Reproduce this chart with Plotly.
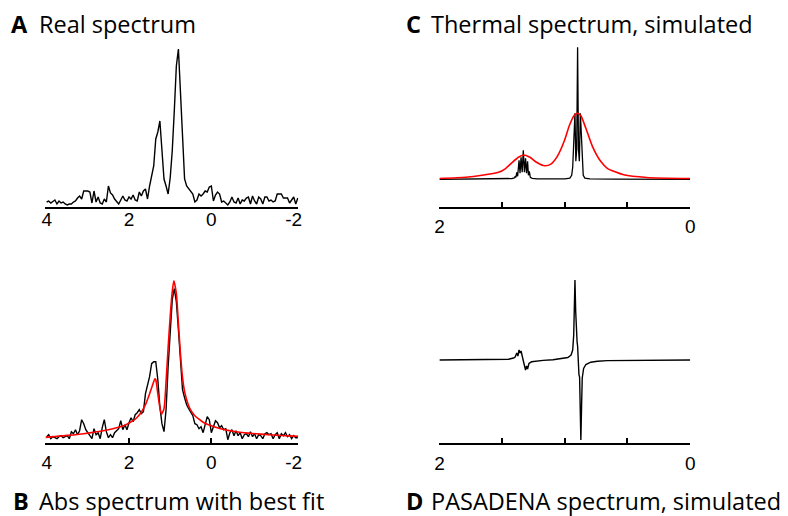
import plotly.graph_objects as go

W, H = 788, 516

# ---------------- data ----------------
# Panels A and B share a uniform chemical-shift grid: 4.00 ppm down to -2.10 ppm
grid_start, grid_step = 4.00, -0.05

# A: real part of the measured spectrum (arbitrary units)
a_intensity = [
    4, 5, 3, 5, 6, 2, 5, 3, 4, 2,
    1, 2, 2, 4, 5, 8, 10, 7, 15, 15,
    15, 14, 3, 15, 4, 9, 3, 2, 7, 4,
    20, 13, 11, 7, 4, 2, 6, 10, 6, 5,
    9, 7, 11, 6, 5, 14, 10, 15, 17, 7,
    20, 30, 40, 67, 74, 85, 50, 27, 20, 12,
    28, 55, 95, 140, 157, 114, 60, 27, 20, 17,
    15, 12, 4, 6, 12, 10, 12, 15, 14, 19,
    20, 5, 11, 14, 12, 4, 5, 3, 1, 4,
    9, 4, 3, 8, 2, 6, 5, 8, 9, 2,
    10, 5, 2, 9, 7, 2, 9, 9, 5, 6,
    4, 5, 12, 12, 12, 8, 8, 8, 3, 6,
    9, 2, 8,
]

# B: absolute-value spectrum (arbitrary units)
b_intensity = [
    5, 7, 3, 5, 4, 3, 5, 6, 4, 5,
    6, 3, 10, 8, 12, 7, 11, 22, 18, 12,
    9, 5, 3, 13, 7, 9, 3, 14, 22, 10,
    4, 7, 4, 9, 11, 13, 21, 12, 17, 12,
    19, 24, 20, 27, 29, 32, 28, 30, 48, 57,
    65, 78, 80, 80, 62, 35, 18, 10, 32, 75,
    110, 142, 153, 140, 112, 85, 52, 44, 37, 33,
    30, 26, 18, 17, 13, 15, 9, 18, 25, 22,
    9, 15, 21, 19, 14, 16, 12, 13, 2, 9,
    12, 6, 11, 6, 9, 3, 7, 8, 5, 10,
    5, 8, 3, 7, 6, 3, 8, 9, 7, 8,
    3, 7, 9, 3, 8, 6, 9, 5, 7, 3,
    6, 4, 4,
]
grid_ppm = [round(grid_start + i * grid_step, 2) for i in range(len(a_intensity))]

# B: best-fit curve
b_fit_ppm = [4.03, 3.9, 3.7, 3.5, 3.3, 3.1, 2.9, 2.7, 2.5, 2.3, 2.1, 1.9, 1.8, 1.7,
             1.6, 1.5, 1.45, 1.4, 1.37, 1.35, 1.3, 1.25, 1.21, 1.15, 1.1, 1.05, 1.0,
             0.95, 0.91, 0.85, 0.8, 0.75, 0.7, 0.65, 0.6, 0.55, 0.5, 0.45, 0.4, 0.3,
             0.2, 0.1, 0.0, -0.2, -0.4, -0.6, -0.8, -1.0, -1.2, -1.4, -1.6, -1.8,
             -2.0, -2.11]
b_fit = [4.3, 4.8, 5.6, 6.3, 7.0, 8.0, 9.2, 10.4, 12.0, 14.0, 16.5, 21.0, 24.5, 29.5,
         37, 48, 54, 60, 63, 62, 48, 34, 27.5, 33, 60, 94, 125,
         150, 161, 148, 118, 88, 64, 50, 42, 36, 31.5, 28.5, 26, 22.5,
         19.5, 17.5, 16, 13.3, 11.3, 10.0, 9.0, 8.2, 7.6, 7.0, 6.4, 6.0,
         5.6, 5.4]

# C: simulated thermal spectrum (multiplets) and its broadened version
c_ppm = [2.00, 1.70, 1.50, 1.42, 1.40, 1.396, 1.390, 1.383, 1.376, 1.365, 1.357,
         1.349, 1.340, 1.331, 1.322, 1.313, 1.305, 1.297, 1.290, 1.283, 1.275,
         1.26, 1.22, 1.10, 1.00, 0.96, 0.945, 0.937, 0.925, 0.919, 0.912, 0.905,
         0.898, 0.891, 0.884, 0.876, 0.870, 0.860, 0.853, 0.84, 0.80, 0.60, 0.00]
c_thermal = [0, 0.1, 0.3, 0.8, 1.5, 3, 2, 7, 3, 19, 6,
             22, 7, 29, 7, 21, 6, 18, 4, 8, 2,
             1, 0.4, 0.2, 0.4, 1.2, 4, 12, 50, 66, 18, 30,
             132, 30, 18, 66, 50, 12, 4, 1.2, 0.4, 0.1, 0]
c_fit_ppm = [2.00, 1.79, 1.66, 1.528, 1.475, 1.423, 1.37, 1.331, 1.278, 1.226, 1.16,
             1.108, 1.055, 1.002, 0.963, 0.924, 0.898, 0.872, 0.832, 0.78, 0.714,
             0.661, 0.53, 0.346, 0.00]
c_fit = [0.8, 2.0, 4.0, 7.0, 10.5, 16.5, 22, 24.3, 22, 17, 13.5,
         15.5, 24, 39, 54, 64, 66, 63.5, 51, 33, 18,
         11, 4.5, 1.8, 0.8]

# D: simulated PASADENA spectrum (antiphase multiplets)
d_ppm = [2.00, 1.528, 1.449, 1.409, 1.396, 1.383, 1.374, 1.365, 1.357, 1.349, 1.339,
         1.331, 1.323, 1.313, 1.305, 1.297, 1.286, 1.265, 1.228, 1.173, 1.094,
         1.016, 0.976, 0.950, 0.937, 0.929, 0.924, 0.919, 0.913, 0.907, 0.902,
         0.898, 0.892, 0.887, 0.882, 0.876, 0.872, 0.866, 0.861, 0.850, 0.832,
         0.793, 0.740, 0.661, 0.425, 0.00]
d_pasadena = [0, 0.3, 0.8, 2, 3, 7, 4, 10, 7, 9, 2,
              -1, -5, -10, -6, -9, -3.5, -1.8, -1.0, -0.4, 0.3,
              1.3, 2.5, 5, 10, 25, 55, 80, 48, 22, 18,
              14, -8, -15, -17, -45, -80, -45, -18, -8.5, -4.5,
              -2.2, -1.2, -0.6, -0.2, 0]

wide_ticks = [4, 2, 0, -2]
wide_minor = [2, 0]
narrow_ticks = [2, 1.5, 1, 0.5, 0]
narrow_labels = ["2", "", "", "", "0"]

titles = [
    ("A", "Real spectrum"),
    ("B", "Abs spectrum with best fit"),
    ("C", "Thermal spectrum, simulated"),
    ("D", "PASADENA spectrum, simulated"),
]

# ---------------- layout geometry (pixels) ----------------
frames = {
    "A": dict(x0=41, x1=297, top=40, bottom=207, zero=206),
    "B": dict(x0=41, x1=297, top=275, bottom=442.7, zero=441.7),
    "C": dict(x0=440, x1=694, top=40, bottom=206.7, zero=179.3),
    "D": dict(x0=440, x1=694, top=275, bottom=442.7, zero=360),
}
label_standoff = {"A": -6, "B": 1, "C": 1, "D": 2}

fig = go.Figure()

def add_line(panel, x, y, color, width, shape="linear"):
    idx = "ABCD".index(panel) + 1
    suffix = "" if idx == 1 else str(idx)
    fig.add_trace(go.Scatter(
        x=x, y=y, mode="lines", xaxis="x" + suffix, yaxis="y" + suffix,
        line=dict(color=color, width=width, shape=shape, smoothing=0.6),
        hoverinfo="skip", showlegend=False,
    ))

add_line("A", grid_ppm, a_intensity, "black", 1.4)
add_line("B", grid_ppm, b_intensity, "black", 1.4)
add_line("B", b_fit_ppm, b_fit, "red", 1.6, "spline")
add_line("C", c_ppm, c_thermal, "black", 1.3)
add_line("C", c_fit_ppm, c_fit, "red", 1.6, "spline")
add_line("D", d_ppm, d_pasadena, "black", 1.4)

tick_font = dict(family="Liberation Sans, Arial", size=19, color="black")
layout = dict(
    width=W, height=H, margin=dict(l=0, r=0, t=0, b=0),
    paper_bgcolor="white", plot_bgcolor="white", showlegend=False,
)
for i, p in enumerate("ABCD"):
    f = frames[p]
    suffix = "" if i == 0 else str(i + 1)
    xa = dict(
        domain=[f["x0"] / W, f["x1"] / W],
        anchor="y" + suffix,
        showline=True, linecolor="black", linewidth=2,
        showgrid=False, zeroline=False,
        tickfont=tick_font, ticklabelstandoff=label_standoff[p],
    )
    if p in "AB":
        xa.update(range=[(209 - f["x0"]) / 41.7, (209 - f["x1"]) / 41.7],
                  tickmode="array", tickvals=wide_ticks,
                  ticktext=[str(v) for v in wide_ticks], ticks="")
        if p == "B":
            xa["minor"] = dict(tickmode="array", tickvals=wide_minor, ticks="inside",
                               ticklen=5, tickwidth=1.5, tickcolor="black")
    else:
        xa.update(range=[2, 0], tickmode="array", tickvals=narrow_ticks,
                  ticktext=narrow_labels, ticks="inside", ticklen=5,
                  tickwidth=1.5, tickcolor="black")
    ya = dict(
        domain=[1 - f["bottom"] / H, 1 - f["top"] / H],
        anchor="x" + suffix,
        range=[-(f["bottom"] - f["zero"]), f["zero"] - f["top"]],
        visible=False,
    )
    layout["xaxis" + suffix] = xa
    layout["yaxis" + suffix] = ya

fig.update_layout(**layout)

title_font = "Open Sans"
title_size = 23.5
# (letter x, text x, vertical centre) in pixels
title_pos = {"A": (5, 33, 24), "B": (7, 33, 500.5),
             "C": (405, 430, 24), "D": (405, 430, 500.5)}
for letter, text in titles:
    lx, tx, ly = title_pos[letter]
    for content, xpos in (("<b>" + letter + "</b>", lx), (text, tx)):
        fig.add_annotation(
            x=xpos / W, y=1 - ly / H, xref="paper", yref="paper",
            xanchor="left", yanchor="middle", showarrow=False, borderpad=0,
            text=content,
            font=dict(family=title_font, size=title_size, color="black"),
        )

fig.write_html("out.html")
